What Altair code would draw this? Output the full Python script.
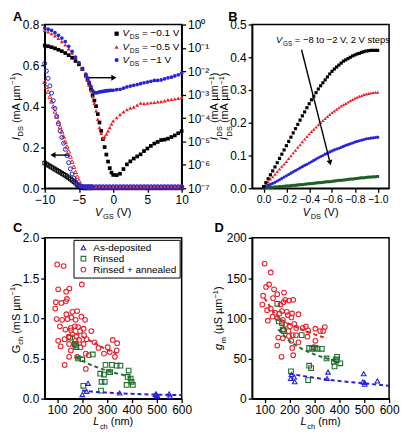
import altair as alt
import pandas as pd

FONT = "Liberation Sans, Arial, sans-serif"
BLACK = "#000000"
RED = "#e8202a"
BLUE = "#2424d8"
GREEN = "#1f6e2e"
GREEN_B = "#1b5e26"

W = 138
H1 = 165
H2 = 162

# ---------------- Panel A data ----------------
VGS_OPEN = [-10, -9.75, -9.5, -9.25, -9, -8.75, -8.5, -8.25, -8, -7.75, -7.5, -7.25, -7,
            -6.75, -6.5, -6.25, -6, -5.75, -5.5, -5.25, -5, -4.75, -4.5, -4.25, -4, -3.75,
            -3.5, -3.25, -3, -2.5, -2, -1.5, -1, -0.5, 0, 0.5, 1, 1.5, 2, 2.5, 3, 3.5, 4,
            4.5, 5, 5.5, 6, 6.5, 7, 7.5, 8, 8.5, 9, 9.5, 10]
IDS_LIN_01 = [0.123, 0.118, 0.113, 0.108, 0.103, 0.098, 0.093, 0.088, 0.083, 0.078, 0.073,
              0.068, 0.063, 0.057, 0.051, 0.045, 0.039, 0.032, 0.025, 0.017, 0.010, 0.005,
              0.003, 0.002, 0.002, 0.002, 0.002, 0.002, 0.002, 0.002, 0.002, 0.002, 0.002,
              0.002, 0.002, 0.002, 0.002, 0.002, 0.002, 0.002, 0.002, 0.002, 0.002, 0.002,
              0.002, 0.002, 0.002, 0.002, 0.002, 0.002, 0.002, 0.002, 0.002, 0.002, 0.002]
IDS_LIN_05 = [0.520, 0.496, 0.472, 0.448, 0.424, 0.400, 0.375, 0.350, 0.326, 0.301, 0.277,
              0.253, 0.228, 0.204, 0.180, 0.155, 0.130, 0.105, 0.080, 0.057, 0.036, 0.020,
              0.011, 0.007, 0.006, 0.005, 0.005, 0.005, 0.005, 0.005, 0.005, 0.005, 0.005,
              0.005, 0.005, 0.005, 0.005, 0.005, 0.005, 0.005, 0.005, 0.005, 0.005, 0.005,
              0.005, 0.005, 0.005, 0.005, 0.005, 0.005, 0.005, 0.005, 0.005, 0.005, 0.005]
IDS_LIN_1 = [0.610, 0.573, 0.537, 0.500, 0.465, 0.428, 0.390, 0.352, 0.315, 0.280, 0.248,
             0.220, 0.190, 0.160, 0.125, 0.095, 0.070, 0.050, 0.033, 0.021, 0.013, 0.009,
             0.008, 0.008, 0.008, 0.008, 0.008, 0.008, 0.008, 0.008, 0.008, 0.008, 0.008,
             0.008, 0.008, 0.008, 0.008, 0.008, 0.008, 0.008, 0.008, 0.008, 0.008, 0.008,
             0.008, 0.008, 0.008, 0.008, 0.008, 0.008, 0.008, 0.008, 0.008, 0.008, 0.008]

VGS_LOG = [-10, -9.5, -9, -8.5, -8, -7.5, -7, -6.5, -6, -5.5, -5, -4.5, -4,
           -3.75, -3.5, -3.25, -3, -2.75, -2.5, -2.25, -2, -1.75, -1.5, -1.25, -1, -0.75,
           -0.5, -0.25, 0, 0.5, 1, 1.5, 2, 2.5, 3, 3.5, 4, 4.5, 5, 5.5, 6, 6.5, 7, 7.5, 8,
           8.5, 9, 9.5, 10]
LOG_IDS_01 = [-0.90, -0.93, -0.97, -1.02, -1.08, -1.14, -1.22, -1.31, -1.42, -1.56, -1.70,
              -1.91, -2.19, -2.35, -2.53, -2.76, -3.02, -3.25, -3.49, -3.83, -4.19, -4.55,
              -4.90, -5.24, -5.56, -5.86, -6.14, -6.33, -6.43, -6.44, -6.38, -6.18, -5.98,
              -5.85, -5.73, -5.64, -5.55, -5.41, -5.30, -5.19, -5.09, -5.02, -4.94, -4.92,
              -4.88, -4.81, -4.74, -4.65, -4.56]
LOG_IDS_05 = [-0.25, -0.31, -0.39, -0.48, -0.59, -0.73, -0.87, -1.04, -1.22, -1.41, -1.63,
              -1.89, -2.19, -2.38, -2.60, -2.83, -3.08, -3.37, -3.69, -4.05, -4.40, -4.65,
              -4.85, -4.80, -4.68, -4.55, -4.40, -4.26, -4.12, -3.98, -3.85, -3.73, -3.64,
              -3.57, -3.53, -3.44, -3.36, -3.38, -3.36, -3.34, -3.33, -3.30, -3.29, -3.26,
              -3.22, -3.20, -3.18, -3.15, -3.12]
LOG_IDS_1 = [-0.15, -0.20, -0.25, -0.35, -0.46, -0.58, -0.73, -0.93, -1.15, -1.39, -1.63,
             -1.87, -2.12, -2.28, -2.46, -2.64, -2.83, -2.90, -2.92, -2.91, -2.88, -2.87,
             -2.86, -2.85, -2.83, -2.83, -2.82, -2.81, -2.81, -2.78, -2.77, -2.72, -2.67,
             -2.63, -2.60, -2.57, -2.53, -2.49, -2.46, -2.43, -2.39, -2.39, -2.37, -2.32,
             -2.28, -2.25, -2.20, -2.15, -2.08]

# ---------------- Panel B data ----------------
VDS = [round(-0.02 * i, 2) for i in range(51)]
IB_M8 = [0.005, 0.017, 0.029, 0.041, 0.053, 0.065, 0.078, 0.091, 0.104, 0.117, 0.130,
         0.143, 0.156, 0.169, 0.182, 0.195, 0.208, 0.221, 0.233, 0.246, 0.258, 0.270,
         0.281, 0.292, 0.303, 0.313, 0.322, 0.331, 0.340, 0.349, 0.357, 0.364, 0.370,
         0.376, 0.382, 0.388, 0.392, 0.396, 0.400, 0.404, 0.407, 0.410, 0.412, 0.415,
         0.417, 0.419, 0.420, 0.421, 0.421, 0.421, 0.421]
IB_M6 = [0.005, 0.012, 0.020, 0.028, 0.035, 0.043, 0.051, 0.059, 0.067, 0.074, 0.082,
         0.091, 0.099, 0.108, 0.116, 0.125, 0.133, 0.142, 0.150, 0.158, 0.166, 0.173,
         0.180, 0.187, 0.194, 0.201, 0.207, 0.213, 0.219, 0.225, 0.231, 0.236, 0.241,
         0.246, 0.251, 0.255, 0.259, 0.263, 0.267, 0.271, 0.275, 0.278, 0.281, 0.283,
         0.286, 0.288, 0.289, 0.291, 0.292, 0.293, 0.293]
IB_M4 = [0.003, 0.006, 0.009, 0.012, 0.015, 0.018, 0.022, 0.026, 0.030, 0.034, 0.038,
         0.042, 0.046, 0.050, 0.054, 0.058, 0.062, 0.066, 0.070, 0.073, 0.077, 0.081,
         0.085, 0.089, 0.093, 0.097, 0.100, 0.104, 0.107, 0.111, 0.114, 0.117, 0.120,
         0.122, 0.125, 0.128, 0.131, 0.133, 0.136, 0.138, 0.141, 0.143, 0.145, 0.147,
         0.149, 0.151, 0.152, 0.153, 0.154, 0.155, 0.156]
IB_M2 = [0.001, 0.002, 0.002, 0.003, 0.003, 0.004, 0.004, 0.005, 0.005, 0.006, 0.007,
         0.007, 0.008, 0.009, 0.009, 0.010, 0.011, 0.011, 0.012, 0.013, 0.014, 0.014,
         0.015, 0.016, 0.017, 0.017, 0.018, 0.019, 0.020, 0.020, 0.021, 0.022, 0.023,
         0.024, 0.024, 0.025, 0.026, 0.027, 0.028, 0.028, 0.029, 0.030, 0.031, 0.032,
         0.032, 0.033, 0.034, 0.034, 0.035, 0.035, 0.036]

# ---------------- Panel C data ----------------
TREAT = ["As-deposited", "Rinsed", "Rinsed + annealed"]
C_RED_L = [100, 126, 104, 149, 136, 139, 135, 117, 95, 92, 199, 137, 157, 180, 161, 98, 120,
           142, 174, 197, 212, 111, 133, 155, 171, 184, 206, 237, 192, 161, 146, 177, 208,
           104, 130, 188, 218, 250, 206, 168, 266, 303, 323, 341, 311, 339, 288, 332, 114,
           155, 194, 215, 148, 180, 201, 130, 215, 227, 174, 148, 156]
C_RED_G = [1.67, 1.65, 1.36, 1.37, 1.33, 1.24, 1.21, 1.19, 1.20, 1.12, 1.42, 1.05, 1.01, 1.09,
           1.08, 0.99, 0.98, 0.99, 0.98, 1.02, 0.98, 0.90, 0.86, 0.88, 0.90, 0.89, 0.87, 0.84,
           0.84, 0.80, 0.77, 0.78, 0.79, 0.72, 0.74, 0.73, 0.74, 0.70, 0.68, 0.67, 0.63, 0.64,
           0.73, 0.69, 0.58, 0.60, 0.56, 0.52, 0.65, 0.60, 0.64, 0.56, 0.52, 0.52, 0.49, 0.42,
           0.37, 0.54, 0.72, 0.68, 0.85]
C_GRN_L = [152, 171, 176, 177, 184, 201, 243, 294, 313, 307, 320, 339, 354, 273, 278, 291,
           276, 205, 383, 387, 395, 399, 379, 404, 288]
C_GRN_G = [0.76, 0.68, 0.66, 0.64, 0.50, 0.49, 0.55, 0.42, 0.33, 0.33, 0.42, 0.41, 0.41, 0.31,
           0.21, 0.21, 0.10, 0.16, 0.27, 0.35, 0.25, 0.21, 0.17, 0.17, 0.30]
C_BLU_L = [201, 224, 218, 351, 497, 503, 500, 550, 553, 495]
C_BLU_G = [0.05, 0.19, 0.09, 0.07, 0.06, 0.03, 0.04, 0.06, 0.03, 0.05]
C_FIT_RED_L = [175, 200, 250, 300, 350]
C_FIT_RED_G = [0.81, 0.77, 0.69, 0.61, 0.55]
C_FIT_GRN_L = [175, 220, 270, 320, 370, 400]
C_FIT_GRN_G = [0.52, 0.44, 0.38, 0.33, 0.29, 0.26]
C_FIT_BLU_L = [200, 250, 300, 400, 500, 600]
C_FIT_BLU_G = [0.10, 0.085, 0.075, 0.06, 0.05, 0.045]

# ---------------- Panel D data ----------------
D_RED_L = [100, 125, 106, 118, 94, 91, 138, 134, 151, 178, 110, 125, 142, 160, 170, 183, 198,
           215, 176, 164, 113, 132, 152, 173, 189, 193, 208, 210, 236, 183, 202, 219, 227,
           196, 176, 213, 226, 236, 253, 266, 275, 304, 323, 342, 335, 304, 272, 155, 151,
           173, 198, 168, 211, 215, 207, 298]
D_RED_G = [168, 157, 139, 142, 128, 117, 136, 125, 130, 132, 110, 112, 107, 106, 109, 123,
           122, 123, 120, 117, 97, 102, 100, 98, 108, 104, 101, 106, 105, 92, 90, 93, 88, 84,
           86, 79, 79, 70, 88, 90, 85, 87, 84, 89, 84, 72, 77, 76, 66, 75, 78, 52, 63, 54,
           72, 64]
D_GRN_L = [151, 157, 170, 173, 177, 249, 279, 291, 304, 313, 330, 279, 287, 275, 349, 387,
           390, 381, 404, 391, 378, 206]
D_GRN_G = [118, 96, 94, 86, 84, 79, 63, 62, 63, 62, 62, 41, 38, 23, 50, 49, 48, 40, 44, 52,
           46, 34]
D_BLU_L = [205, 219, 221, 208, 355, 351, 498, 495, 502, 502, 553]
D_BLU_G = [25, 27, 21, 30, 33, 25, 31, 21, 20, 18, 22]
D_FIT_RED_L = [100, 150, 200, 250, 300, 350]
D_FIT_RED_G = [125, 103, 93, 86, 80, 75]
D_FIT_GRN_L = [155, 200, 250, 300, 350, 390]
D_FIT_GRN_G = [86, 72, 62, 55, 50, 46]
D_FIT_BLU_L = [200, 300, 400, 500, 600]
D_FIT_BLU_G = [31, 26, 22, 19, 16]

# ---------------- helpers ----------------
ONE = pd.DataFrame({"k": [0]})
AW = {' ': 0.278, '(': 0.333, ')': 0.333, '−': 0.584, '=': 0.584, '.': 0.278,
      ',': 0.278, '+': 0.584, 'µ': 0.576, '0': 0.556, '1': 0.556, '2': 0.556, '5': 0.556,
      '8': 0.556, 'A': 0.667, 'D': 0.722, 'G': 0.778, 'I': 0.278, 'L': 0.556, 'S': 0.667,
      'V': 0.667, 'c': 0.5, 'e': 0.556, 'g': 0.556, 'h': 0.556, 'm': 0.833, 'n': 0.556,
      'o': 0.556, 'p': 0.556, 's': 0.5, 't': 0.278}


def tw(s, fs):
    return fs * sum(AW.get(ch, 0.556) for ch in s)


def rich(parts, fs, x, y, angle=0, align="center", x0=0.0):
    def size(kind):
        return fs * 0.68 if kind in ("sub", "sup") else fs

    def adv(t, kind):
        w = tw(t, size(kind))
        if kind == "i":
            w += fs * 0.06
        return w

    total = sum(adv(t, k) for t, k in parts)
    cur = -total / 2 if align == "center" else (0 if align == "left" else -total)
    cur += x0
    layers = []
    for t, kind in parts:
        lead = len(t) - len(t.lstrip(" "))
        cur += tw(" " * lead, size(kind))
        body = t.lstrip(" ")
        dy = fs * 0.3 if kind == "sub" else (-fs * 0.42 if kind == "sup" else 0)
        kw = dict(text=body, font=FONT, fontSize=size(kind),
                  fontStyle="italic" if kind == "i" else "normal",
                  align="left", baseline="alphabetic", dx=cur, dy=dy, color=BLACK)
        if angle:
            kw["angle"] = angle
        layers.append(alt.Chart(ONE).mark_text(**kw).encode(x=x, y=y))
        cur += adv(body, kind)
    return layers


def letter(s, dx, dy):
    return alt.Chart(ONE).mark_text(text=s, font=FONT, fontSize=13, fontWeight="bold",
                                    align="left", baseline="top", color=BLACK).encode(
        x=alt.value(dx), y=alt.value(dy))


def axis(values, fmt, **kw):
    return alt.Axis(values=values, format=fmt, title=None, labelOverlap=False,
                    labelFlush=False, **kw)


IDS_TITLE = [("I", "i"), ("DS", "sub"), (" (mA µm", "n"), ("−1", "sup"), (")", "n")]

# ---------------- Panel A ----------------
dfA_open = pd.DataFrame({"v": VGS_OPEN, "b": IDS_LIN_01, "r": IDS_LIN_05, "u": IDS_LIN_1})
dfA_log = pd.DataFrame({"v": VGS_LOG, "b": LOG_IDS_01, "r": LOG_IDS_05, "u": LOG_IDS_1})

xA_scale = alt.Scale(domain=[-10, 10], nice=False)
xA_axis = axis([-10, -5, 0, 5, 10], "d")
xA = alt.X("v:Q", scale=xA_scale, axis=xA_axis)
yAl_scale = alt.Scale(domain=[0, 0.8], nice=False)
yAl_axis = axis([0, 0.2, 0.4, 0.6, 0.8], ".1f")
yAr_scale = alt.Scale(domain=[-7, 0], nice=False)
yAr_axis = axis([-7, -6, -5, -4, -3, -2, -1, 0], "d", orient="right",
                labelExpr="'10' + ['⁰','⁻¹','⁻²','⁻³','⁻⁴','⁻⁵','⁻⁶','⁻⁷'][-datum.value]")


def xa(v):
    return alt.XDatum(v, axis=xA_axis, scale=xA_scale)


def yal(v):
    return alt.YDatum(v, axis=yAl_axis, scale=yAl_scale)


a_open_k = alt.Chart(dfA_open).mark_point(shape="square", filled=False, size=14, strokeWidth=1,
                                          color=BLACK, opacity=1).encode(
    x=xA, y=alt.Y("b:Q", scale=yAl_scale, axis=yAl_axis))
a_open_r = alt.Chart(dfA_open).mark_point(shape="triangle-up", filled=False, size=16,
                                          strokeWidth=1, color=RED, opacity=1).encode(
    x=xA, y=alt.Y("r:Q", scale=yAl_scale, axis=yAl_axis))
a_open_b = alt.Chart(dfA_open).mark_point(shape="circle", filled=False, size=16, strokeWidth=1,
                                          color=BLUE, opacity=1).encode(
    x=xA, y=alt.Y("u:Q", scale=yAl_scale, axis=yAl_axis))

arrow_r = alt.Chart(ONE).mark_rule(color=BLACK, strokeWidth=1.4).encode(
    x=xa(-3.8), x2=alt.datum(0.0), y=yal(0.54))
arrow_r_h = alt.Chart(ONE).mark_point(shape="triangle-right", filled=True, size=36,
                                      color=BLACK, opacity=1).encode(
    x=xa(0.1), y=yal(0.54))
arrow_l = alt.Chart(ONE).mark_rule(color=BLACK, strokeWidth=1.4).encode(
    x=xa(-6.4), x2=alt.datum(-8.7), y=yal(0.162))
arrow_l_h = alt.Chart(ONE).mark_point(shape="triangle-left", filled=True, size=36,
                                      color=BLACK, opacity=1).encode(
    x=xa(-8.8), y=yal(0.162))

LEG_A = [("square", BLACK, 0.755, " = −0.1 V"), ("triangle-up", RED, 0.690, " = −0.5 V"),
         ("circle", BLUE, 0.626, " = −1 V")]
a_legend = []
for shp, col, yy, txt in LEG_A:
    a_legend.append(alt.Chart(ONE).mark_point(shape=shp, filled=True, size=18, color=col,
                                              opacity=1).encode(
        x=xa(0.5), y=yal(yy)))
    a_legend += rich([("V", "i"), ("DS", "sub"), (txt, "n")], 10,
                     xa(0.5), yal(yy - 0.013), align="left", x0=6)

a_fill_k = alt.Chart(dfA_log).mark_point(shape="square", filled=True, size=14, color=BLACK,
                                         opacity=1).encode(
    x=xA, y=alt.Y("b:Q", scale=yAr_scale, axis=yAr_axis))
a_fill_r = alt.Chart(dfA_log).mark_point(shape="triangle-up", filled=True, size=16, color=RED,
                                         opacity=1).encode(
    x=xA, y=alt.Y("r:Q", scale=yAr_scale, axis=yAr_axis))
a_fill_b = alt.Chart(dfA_log).mark_point(shape="circle", filled=True, size=14, color=BLUE,
                                         opacity=1).encode(
    x=xA, y=alt.Y("u:Q", scale=yAr_scale, axis=yAr_axis))

left_grp = alt.layer(a_open_k, a_open_r, a_open_b, arrow_r, arrow_r_h, arrow_l, arrow_l_h,
                     *a_legend)
right_grp = alt.layer(a_fill_k, a_fill_r, a_fill_b)
a_titles = (rich(IDS_TITLE, 11, alt.value(-25), alt.value(H1 / 2), angle=270)
            + rich(IDS_TITLE, 11, alt.value(W + 37), alt.value(H1 / 2), angle=270)
            + rich([("V", "i"), ("GS", "sub"), (" (V)", "n")], 11, alt.value(W / 2),
                   alt.value(H1 + 28))
            + [letter("A", -32, -14)])
panelA = alt.layer(left_grp, right_grp, *a_titles).resolve_scale(y="independent").properties(
    width=W, height=H1)

# ---------------- Panel B ----------------
dfB = pd.DataFrame({"v": VDS, "k": IB_M8, "r": IB_M6, "b": IB_M4, "g": IB_M2})
xB_scale = alt.Scale(domain=[0.1, -1.1], nice=False, zero=False)
xB_axis = axis([0, -0.2, -0.4, -0.6, -0.8, -1.0], ".1f", labelFontSize=10.5)
xB = alt.X("v:Q", scale=xB_scale, axis=xB_axis)
yB_scale = alt.Scale(domain=[0, 0.5], nice=False)
yB_axis = axis([0, 0.1, 0.2, 0.3, 0.4, 0.5], ".1f")


def xb(v):
    return alt.XDatum(v, axis=xB_axis, scale=xB_scale)


def yb(v):
    return alt.YDatum(v, axis=yB_axis, scale=yB_scale)


b_layers = []
for col, shp, c, sz in [("g", "square", GREEN_B, 9), ("b", "circle", BLUE, 10),
                        ("r", "triangle-up", RED, 12), ("k", "square", BLACK, 10)]:
    b_layers.append(alt.Chart(dfB).mark_point(shape=shp, filled=True, size=sz, color=c,
                                              opacity=1).encode(
        x=xB, y=alt.Y(f"{col}:Q", scale=yB_scale, axis=yB_axis)))
b_arrow = alt.Chart(ONE).mark_rule(color=BLACK, strokeWidth=1.4).encode(
    x=xb(-0.333), x2=alt.datum(-0.578), y=yb(0.423), y2=alt.datum(0.085))
b_arrow_h = alt.Chart(ONE).mark_point(shape="triangle-up", filled=True, size=36, angle=166,
                                      color=BLACK, opacity=1).encode(
    x=xb(-0.583), y=yb(0.078))
b_text = rich([("V", "i"), ("GS", "sub"), (" = −8 to −2 V, 2 V steps", "n")], 9.5,
              xb(-0.11), yb(0.442), align="left")
b_titles = (rich(IDS_TITLE, 11, alt.value(-24), alt.value(H1 / 2), angle=270)
            + rich([("V", "i"), ("DS", "sub"), (" (V)", "n")], 11, alt.value(W / 2),
                   alt.value(H1 + 28))
            + [letter("B", -24, -14)])
panelB = alt.layer(*b_layers, b_arrow, b_arrow_h, *b_text, *b_titles).properties(
    width=W, height=H1)

# ---------------- Panel C / D ----------------
legC = alt.Legend(title=None, orient="top-right", offset=2, strokeColor=BLACK, fillColor="white",
                  padding=3, labelFont=FONT, labelFontSize=10, labelColor=BLACK,
                  symbolSize=22, symbolStrokeWidth=1.1, rowPadding=1, labelOffset=5,
                  labelLimit=200, symbolOffset=2)
xL = alt.X("L:Q", scale=alt.Scale(domain=[50, 600], nice=False),
           axis=axis([100, 200, 300, 400, 500, 600], "d"))
LCH_TITLE = [("L", "i"), ("ch", "sub"), (" (nm)", "n")]


def scatter_panel(red_l, red_v, grn_l, grn_v, blu_l, blu_v, fits, y_scale, y_axis, legend,
                  titles):
    df = pd.DataFrame({
        "L": red_l + grn_l + blu_l,
        "Y": red_v + grn_v + blu_v,
        "T": [TREAT[2]] * len(red_l) + [TREAT[1]] * len(grn_l) + [TREAT[0]] * len(blu_l),
        "o": list(range(len(red_l) + len(grn_l) + len(blu_l))),
    })
    pts = alt.Chart(df).mark_point(filled=False, size=22, strokeWidth=1.1, opacity=1).encode(
        x=xL,
        y=alt.Y("Y:Q", scale=y_scale, axis=y_axis),
        color=alt.Color("T:N", scale=alt.Scale(domain=TREAT, range=[BLUE, GREEN, RED]),
                        legend=legend),
        shape=alt.Shape("T:N", scale=alt.Scale(domain=TREAT,
                                               range=["triangle-up", "square", "circle"]),
                        legend=legend),
        order=alt.Order("o:Q"),
    )
    fit_layers = []
    for fl, fv, c in fits:
        fdf = pd.DataFrame({"L": fl, "Y": fv})
        fit_layers.append(alt.Chart(fdf).mark_line(color=c, strokeWidth=2, strokeDash=[4, 3],
                                                    interpolate="monotone").encode(
            x=xL, y=alt.Y("Y:Q", scale=y_scale, axis=y_axis)))
    return alt.layer(pts, *fit_layers, *titles).properties(width=W, height=H2)


c_titles = (rich([("G", "n"), ("ch", "sub"), (" (mS µm", "n"), ("−1", "sup"), (")", "n")], 11,
                 alt.value(-25), alt.value(H2 / 2), angle=270)
            + rich(LCH_TITLE, 11, alt.value(W / 2), alt.value(H2 + 27))
            + [letter("C", -32, -16)])
panelC = scatter_panel(C_RED_L, C_RED_G, C_GRN_L, C_GRN_G, C_BLU_L, C_BLU_G,
                       [(C_FIT_RED_L, C_FIT_RED_G, RED), (C_FIT_GRN_L, C_FIT_GRN_G, GREEN),
                        (C_FIT_BLU_L, C_FIT_BLU_G, BLUE)],
                       alt.Scale(domain=[0, 2], nice=False),
                       axis([0, 0.5, 1, 1.5, 2], ".1f"),
                       legC, c_titles)

d_titles = (rich([("g", "i"), ("m", "sub"), (" (µS µm", "n"), ("−1", "sup"), (")", "n")], 11,
                 alt.value(-30), alt.value(H2 / 2), angle=270)
            + rich(LCH_TITLE, 11, alt.value(W / 2), alt.value(H2 + 27))
            + [letter("D", -38, -16)])
panelD = scatter_panel(D_RED_L, D_RED_G, D_GRN_L, D_GRN_G, D_BLU_L, D_BLU_G,
                       [(D_FIT_RED_L, D_FIT_RED_G, RED), (D_FIT_GRN_L, D_FIT_GRN_G, GREEN),
                        (D_FIT_BLU_L, D_FIT_BLU_G, BLUE)],
                       alt.Scale(domain=[0, 200], nice=False),
                       axis([0, 50, 100, 150, 200], "d"),
                       None, d_titles)

chart = alt.concat(panelA, panelB, panelC, panelD, columns=2,
                   spacing={"row": 50, "column": 71}, bounds="flush").resolve_scale(
    color="independent", shape="independent"
).properties(
    padding={"left": 0, "top": 0, "right": 0, "bottom": 0}
).configure(font=FONT).configure_axis(
    labelFont=FONT, labelFontSize=12, labelColor=BLACK, tickColor=BLACK, domainColor=BLACK,
    domainWidth=1.5, tickWidth=1.3, tickSize=4, labelPadding=2, grid=False, labelOverlap=False
).configure_view(stroke=BLACK, strokeWidth=1.5)

chart.save("out.html", embed_options={"renderer": "svg", "actions": False})
